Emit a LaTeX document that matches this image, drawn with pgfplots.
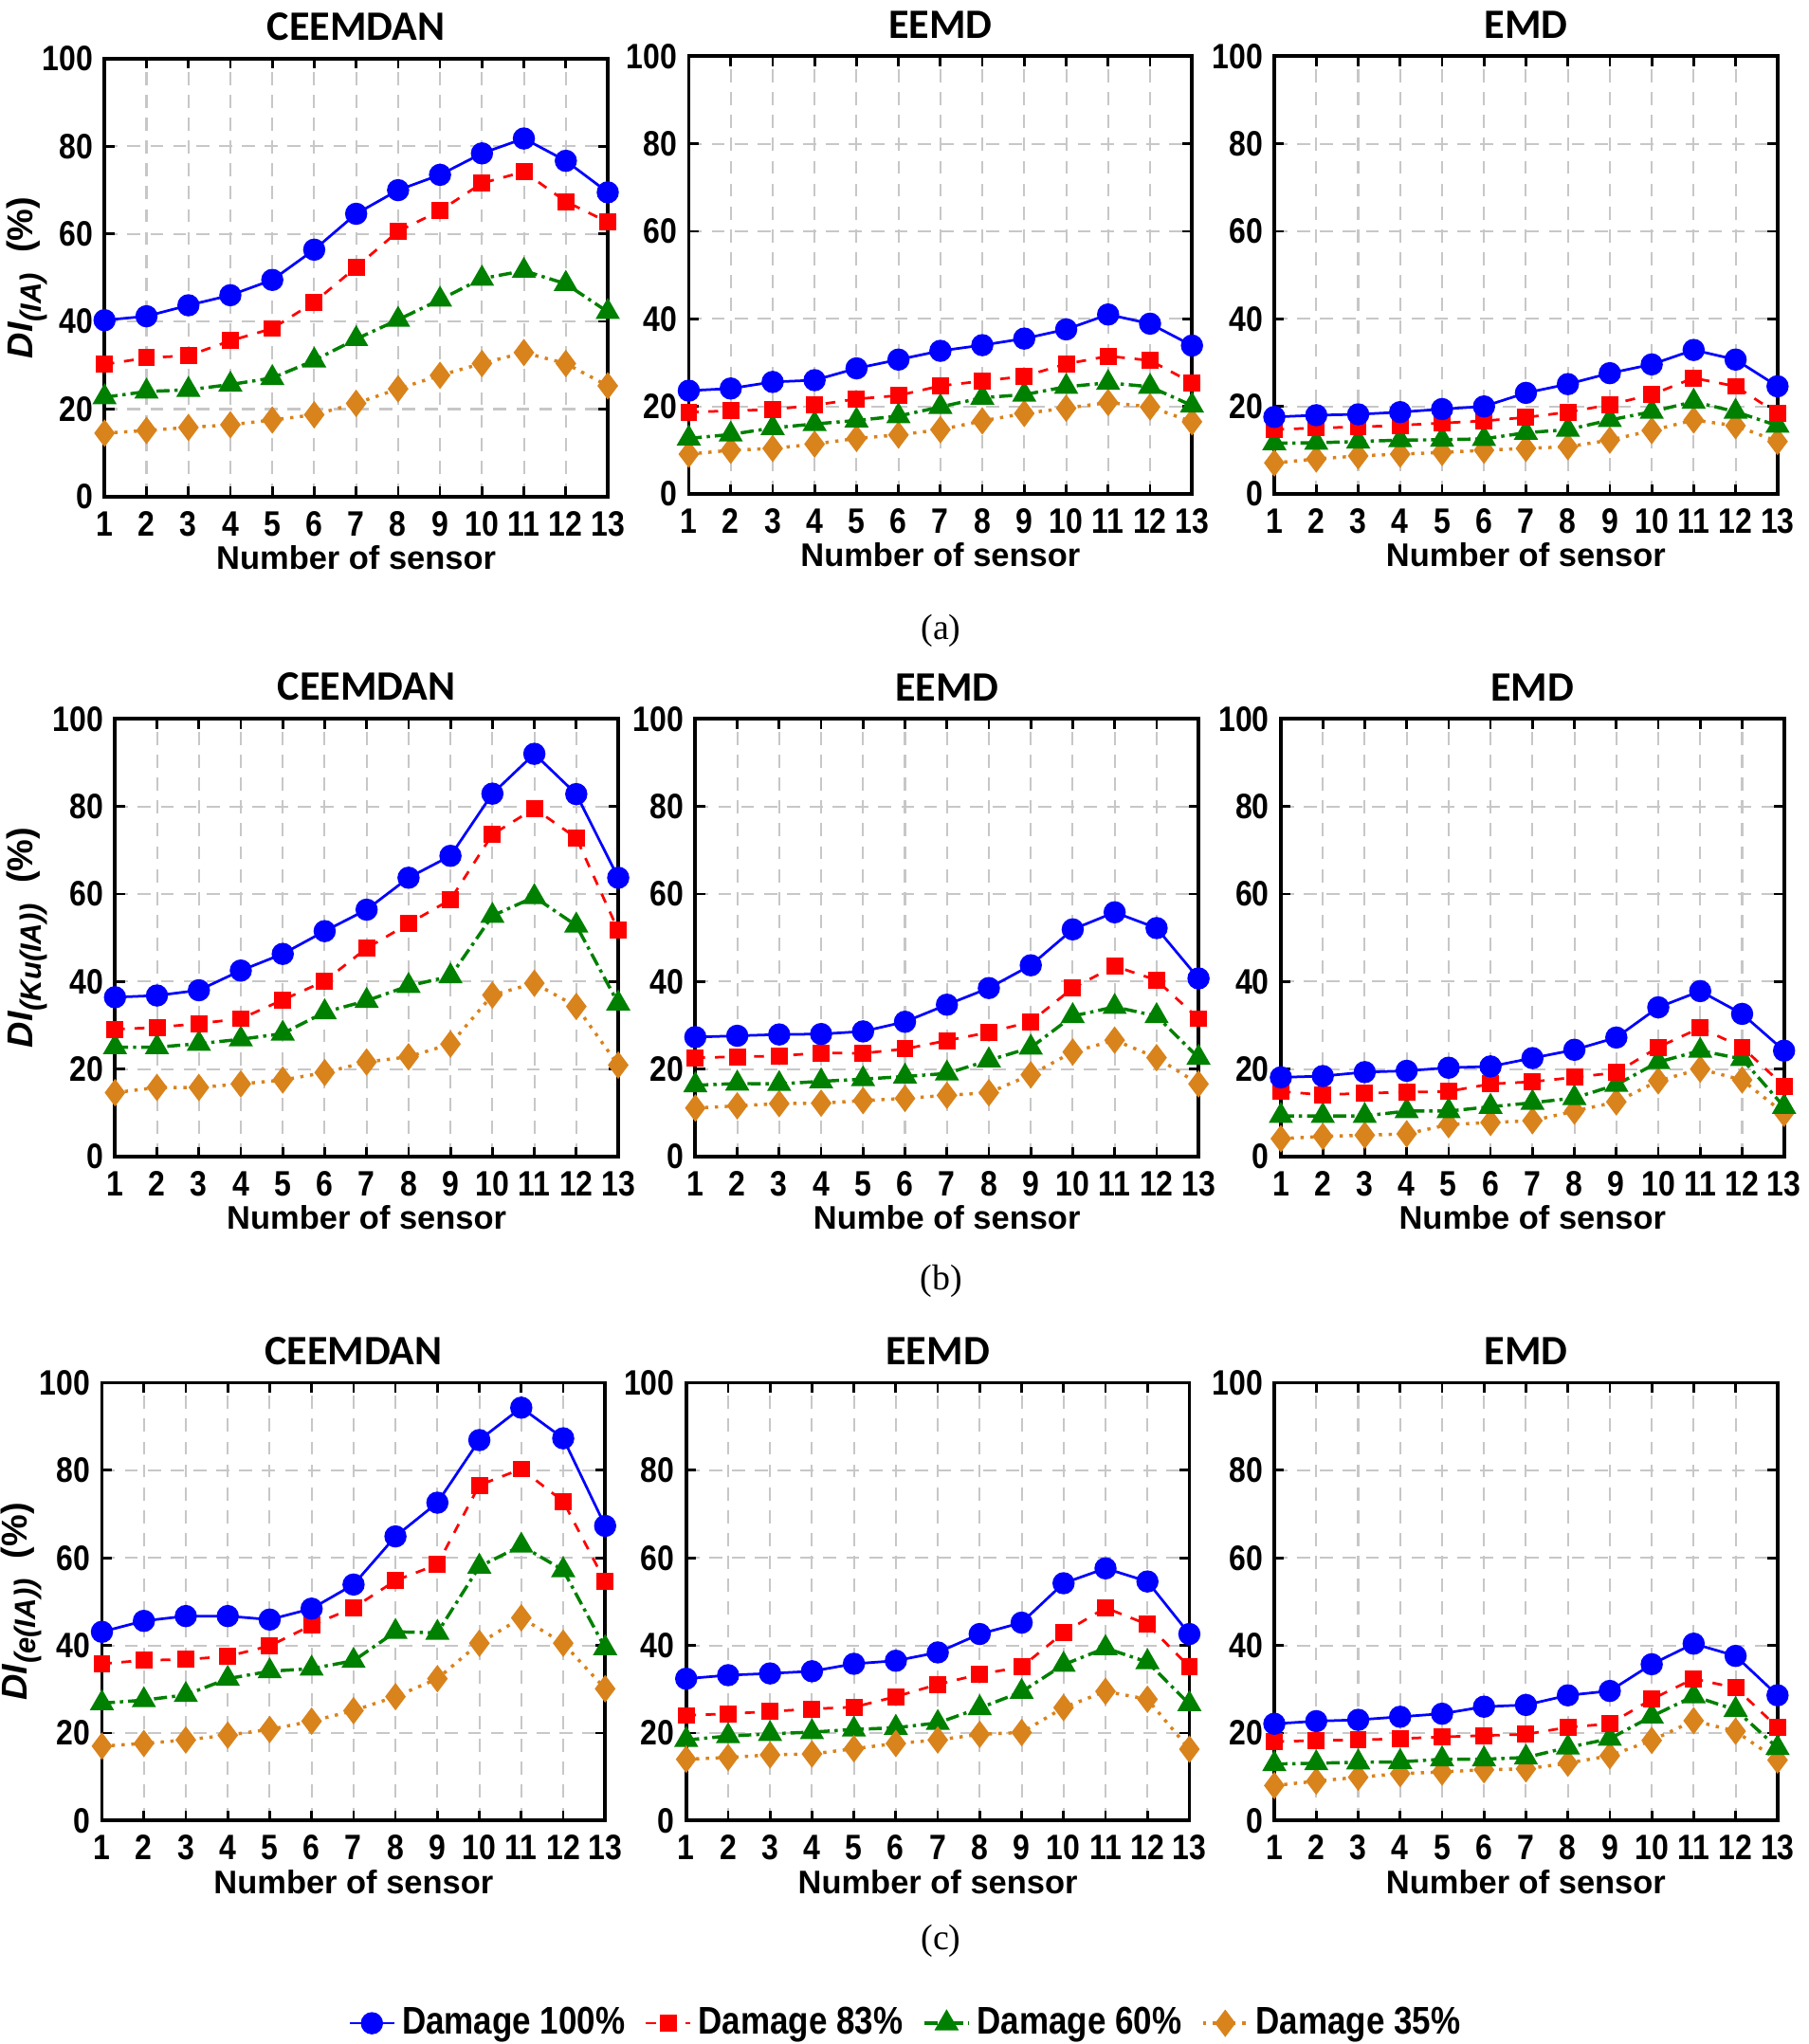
\documentclass[border=0pt]{standalone}
\usepackage{fontspec}
\setmainfont{Liberation Sans}
\newfontfamily\narrowfont[FakeStretch=0.86]{Liberation Sans}
\newfontfamily\titlefont{Carlito}
\newfontfamily\capfont{Liberation Serif}
\usepackage{pgfplots}
\usepackage{pgfplotstable}
\pgfplotsset{compat=1.18}

\definecolor{cB}{RGB}{0,0,255}
\definecolor{cR}{RGB}{255,0,0}
\definecolor{cG}{RGB}{0,128,0}
\definecolor{cO}{RGB}{217,131,28}

\pgfplotstableread{
x b r g o
1 40.3 30.2 22.7 14.5
2 41.2 31.7 24.0 15.1
3 43.7 32.2 24.4 15.8
4 46.0 35.6 25.6 16.4
5 49.5 38.4 27.1 17.5
6 56.4 44.4 31.1 18.7
7 64.6 52.4 36.0 21.3
8 70.0 60.6 40.4 24.6
9 73.5 65.3 45.0 27.7
10 78.4 71.6 49.8 30.4
11 81.8 74.2 51.6 32.9
12 76.7 67.4 48.6 30.4
13 69.5 62.7 42.2 25.3
}\aCE
\pgfplotstableread{
x b r g o
1 23.6 18.7 12.7 9.1
2 24.1 19.0 13.6 10.0
3 25.6 19.3 15.1 10.4
4 26.0 20.3 16.0 11.4
5 28.7 21.7 16.8 12.7
6 30.7 22.5 17.8 13.5
7 32.7 24.7 19.9 14.7
8 34.0 25.8 22.0 16.7
9 35.5 26.9 22.7 18.4
10 37.6 29.7 24.5 19.6
11 41.0 31.5 25.4 20.9
12 38.9 30.5 24.5 19.9
13 33.9 25.4 20.2 16.5
}\aEE
\pgfplotstableread{
x b r g o
1 17.6 14.7 11.6 7.1
2 18.0 15.1 11.7 8.0
3 18.2 15.3 12.0 8.7
4 18.7 15.7 12.3 9.1
5 19.4 16.2 12.4 9.5
6 20.0 16.7 12.6 10.0
7 23.1 17.5 14.0 10.4
8 25.1 18.7 14.7 10.8
9 27.6 20.4 16.9 12.3
10 29.6 22.7 18.8 14.5
11 32.9 26.5 21.1 16.9
12 30.7 24.6 18.8 15.6
13 24.6 18.4 15.6 12.0
}\aEM
\pgfplotstableread{
x b r g o
1 36.4 29.1 25.0 14.6
2 36.8 29.5 25.0 15.8
3 38.0 30.4 25.8 15.8
4 42.5 31.5 26.8 16.6
5 46.3 35.8 28.1 17.5
6 51.5 40.1 33.0 19.2
7 56.4 47.6 35.6 21.6
8 63.7 53.2 39.0 22.8
9 68.7 58.7 41.2 25.7
10 82.9 73.6 55.0 36.9
11 92.0 79.5 59.3 39.6
12 82.8 72.8 52.8 34.3
13 63.7 51.7 35.0 20.9
}\bCE
\pgfplotstableread{
x b r g o
1 27.3 22.6 16.3 11.1
2 27.6 22.8 16.7 11.6
3 27.9 23.0 16.6 12.1
4 28.0 23.7 17.2 12.2
5 28.6 23.6 17.7 12.8
6 30.8 24.6 18.3 13.3
7 34.7 26.5 19.0 14.0
8 38.5 28.4 22.0 14.6
9 43.7 30.8 24.9 18.7
10 51.9 38.5 32.1 23.9
11 55.8 43.5 34.2 26.6
12 52.2 40.3 32.1 22.6
13 40.7 31.5 22.6 16.6
}\bEE
\pgfplotstableread{
x b r g o
1 18.1 14.9 9.3 4.1
2 18.4 14.1 9.3 4.6
3 19.3 14.5 9.3 4.9
4 19.6 14.7 10.4 5.2
5 20.3 14.9 10.4 7.3
6 20.6 16.6 11.4 7.8
7 22.5 17.1 12.3 8.2
8 24.4 18.1 13.4 10.4
9 27.2 19.2 16.4 12.5
10 34.1 25.0 21.6 17.3
11 37.8 29.4 24.2 20.0
12 32.6 25.0 22.3 17.5
13 24.2 16.1 11.4 9.9
}\bEM
\pgfplotstableread{
x b r g o
1 43.1 35.8 26.8 17.0
2 45.6 36.6 27.5 17.6
3 46.7 36.8 28.7 18.4
4 46.7 37.5 32.4 19.5
5 45.9 39.9 34.1 20.8
6 48.4 44.6 34.7 22.7
7 53.9 48.6 36.5 25.1
8 64.9 54.8 43.1 28.3
9 72.6 58.5 42.9 32.4
10 86.9 76.6 58.0 40.5
11 94.3 80.3 62.8 46.3
12 87.3 72.9 57.2 40.5
13 67.3 54.6 39.4 30.1
}\cCE
\pgfplotstableread{
x b r g o
1 32.4 24.0 18.4 14.0
2 33.2 24.4 19.3 14.4
3 33.6 24.9 19.8 15.0
4 34.1 25.5 20.2 15.2
5 35.8 25.9 20.8 16.4
6 36.5 28.3 21.2 17.6
7 38.4 31.1 22.3 18.4
8 42.6 33.4 25.7 19.7
9 45.2 35.1 29.4 20.1
10 54.2 42.9 35.6 25.8
11 57.6 48.6 39.4 29.5
12 54.6 44.8 36.2 27.7
13 42.6 35.1 26.6 16.3
}\cEE
\pgfplotstableread{
x b r g o
1 22.1 18.0 12.9 8.0
2 22.7 18.3 13.1 9.0
3 23.0 18.4 13.3 9.9
4 23.7 18.7 13.4 10.7
5 24.4 19.1 14.0 11.1
6 26.0 19.4 14.0 11.6
7 26.4 19.7 14.4 11.8
8 28.6 21.3 16.7 13.1
9 29.6 22.1 18.7 14.8
10 35.7 27.7 23.8 18.3
11 40.4 32.4 28.4 22.8
12 37.6 30.3 25.3 20.4
13 28.6 21.3 16.6 13.8
}\cEM

\pgfplotsset{
  panel/.style={
    width=154pt, height=134pt, scale only axis,
    xmin=1, xmax=13, ymin=0, ymax=100,
    xtick={1,...,13}, ytick={0,20,...,100},
    grid=major,
    major grid style={black!22, dash pattern=on 4pt off 3pt, line width=0.6pt},
    axis line style={line width=1.1pt},
    tick style={black, line width=0.8pt},
    major tick length=3pt,
    tick label style={font=\narrowfont\bfseries\fontsize{10.8}{12}\selectfont},
    /pgf/number format/assume math mode=true,
    xticklabel style={yshift=-1pt},
    label style={font=\bfseries\fontsize{10}{12}\selectfont},
    xlabel style={yshift=4pt},
    ylabel style={font=\bfseries\fontsize{11}{12}\selectfont},
    title style={font=\titlefont\bfseries\fontsize{12.8}{14}\selectfont, yshift=-4pt},
    clip=false,
    anchor=south west,
    legend image code/.code={
      \draw[mark repeat=2,mark phase=2] plot coordinates {(0cm,0cm) (0.24cm,0cm) (0.48cm,0cm)};},
  },
  ylab/.style={ylabel style={at={(axis description cs:#1,0.5)}, anchor=center}},
  s1/.style={cB, solid, line width=0.8pt, mark=*, mark size=3pt, mark options={solid, fill=cB}},
  s2/.style={cR, dashed, line width=0.8pt, mark=square*, mark size=2.2pt, mark options={solid, fill=cR}},
  s3/.style={cG, dash pattern=on 4pt off 1.5pt on 1pt off 1.5pt, line width=1pt, mark=triangle*, mark size=3.3pt, mark options={solid, fill=cG}},
  s4/.style={cO, dotted, line width=1pt, mark=diamond*, mark size=3.4pt, mark options={solid, fill=cO}},
}
\newcommand\four[1]{%
  \addplot[s4] table[x=x,y=o]{#1};
  \addplot[s3] table[x=x,y=g]{#1};
  \addplot[s2] table[x=x,y=r]{#1};
  \addplot[s1] table[x=x,y=b]{#1};
}
\newcommand\DI[1]{\textbf{\textit{DI}}\raisebox{-0.45ex}{\fontsize{9}{10}\selectfont\textbf{\textit{#1}}}\ \ (\%)}

\begin{document}
\begin{tikzpicture}
\useasboundingbox (0,0) rectangle (553.6pt,-625.6pt);
% row (a)
\begin{axis}[panel, at={(32pt,-152pt)}, title={CEEMDAN}, xlabel={Number of sensor}, ylabel={\DI{(IA)}}, ylab=-0.155]
\four{\aCE}
\end{axis}
\begin{axis}[panel, at={(210.8pt,-151.2pt)}, title={EEMD}, xlabel={Number of sensor}]
\four{\aEE}
\end{axis}
\begin{axis}[panel, at={(390pt,-151.2pt)}, title={EMD}, xlabel={Number of sensor}]
\four{\aEM}
\end{axis}
\node[font=\capfont\fontsize{11}{13}\selectfont] at (288pt,-193.2pt) {(a)};
% row (b)
\begin{axis}[panel, at={(35.2pt,-354pt)}, title={CEEMDAN}, xlabel={Number of sensor}, ylabel={\DI{(Ku(IA))}}, ylab=-0.175]
\four{\bCE}
\end{axis}
\begin{axis}[panel, at={(212.8pt,-354pt)}, title={EEMD}, xlabel={Numbe of sensor}]
\four{\bEE}
\end{axis}
\begin{axis}[panel, at={(392pt,-354pt)}, title={EMD}, xlabel={Numbe of sensor}]
\four{\bEM}
\end{axis}
\node[font=\capfont\fontsize{11}{13}\selectfont] at (288pt,-392pt) {(b)};
% row (c)
\begin{axis}[panel, at={(31.2pt,-557.2pt)}, title={CEEMDAN}, xlabel={Number of sensor}, ylabel={\DI{(e(IA))}}, ylab=-0.16]
\four{\cCE}
\end{axis}
\begin{axis}[panel, at={(210pt,-557.2pt)}, title={EEMD}, xlabel={Number of sensor},
  legend columns=4,
  legend style={at={(0.44,-0.463)}, anchor=center, draw=none, fill=none,
    font=\narrowfont\bfseries\fontsize{11.8}{13}\selectfont,
    /tikz/every even column/.append style={column sep=4pt},
    legend cell align=left}]
\addplot[s1] table[x=x,y=b]{\cEE};
\addplot[s2] table[x=x,y=r]{\cEE};
\addplot[s3] table[x=x,y=g]{\cEE};
\addplot[s4] table[x=x,y=o]{\cEE};
\legend{Damage 100\%, Damage 83\%, Damage 60\%, Damage 35\%}
\end{axis}
\begin{axis}[panel, at={(390pt,-557.2pt)}, title={EMD}, xlabel={Number of sensor}]
\four{\cEM}
\end{axis}
\node[font=\capfont\fontsize{11}{13}\selectfont] at (288pt,-594pt) {(c)};
\end{tikzpicture}
\end{document}
